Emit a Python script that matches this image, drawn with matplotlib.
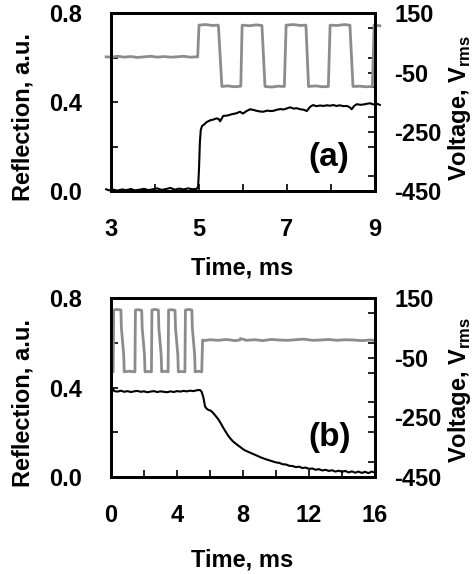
import matplotlib
matplotlib.use('Agg')
import matplotlib.pyplot as plt
from matplotlib.ticker import MultipleLocator, FixedLocator

plt.rcParams['font.family'] = ['Liberation Sans', 'DejaVu Sans']
plt.rcParams['font.weight'] = 'bold'
plt.rcParams['mathtext.fontset'] = 'custom'
plt.rcParams['mathtext.bf'] = 'Liberation Sans:bold'
plt.rcParams['mathtext.rm'] = 'Liberation Sans:bold'

# ---------------- Panel (a): switching on ----------------
ta_gray = [2.89, 3.0, 3.15, 3.3, 3.45, 3.6, 3.75, 3.9, 4.05, 4.2,
           4.35, 4.5, 4.65, 4.8, 4.95,
           4.97, 5.0, 5.15, 5.3, 5.44,
           5.52, 5.65, 5.8, 5.95, 5.98,
           6.15, 6.3, 6.43, 6.5, 6.65,
           6.8, 6.94, 6.98, 7.15, 7.3,
           7.43, 7.49, 7.65, 7.8, 7.94,
           7.98, 8.15, 8.3, 8.43, 8.5,
           8.65, 8.8, 8.94, 8.98, 9.11]
va_gray = [3, 2, 5, 2, 4, 1, 3, 5, 2, 4,
           2, 3, 5, 2, 3,
           3, 110, 112, 109, 110,
           -97, -95, -98, -96, 110,
           108, 111, 109, -97, -99,
           -96, -97, 110, 112, 109,
           110, -97, -95, -98, -97,
           110, 109, 112, 110, -97,
           -96, -98, -97, 110, 108]

ta_blk = [2.89, 2.95, 3.05, 3.15, 3.25, 3.35, 3.45, 3.55, 3.65, 3.75,
          3.85, 3.95, 4.05, 4.15, 4.25, 4.35, 4.45, 4.55, 4.65, 4.75,
          4.85, 4.95, 4.98, 5.0, 5.02, 5.04, 5.07, 5.12, 5.17, 5.25,
          5.33, 5.40, 5.45, 5.48, 5.55, 5.65, 5.75, 5.85, 5.93, 6.0,
          6.08, 6.16, 6.24, 6.31, 6.39, 6.46, 6.55, 6.62, 6.69, 6.77,
          6.85, 6.92, 7.0, 7.07, 7.15, 7.22, 7.3, 7.38, 7.45, 7.52,
          7.59, 7.67, 7.75, 7.83, 7.91, 7.98, 8.05, 8.13, 8.2, 8.28,
          8.36, 8.42, 8.47, 8.53, 8.59, 8.67, 8.75, 8.82, 8.89, 8.96,
          9.04, 9.11]
ra_blk = [0.008, 0.003, 0.006, 0.002, 0.007, 0.004, 0.009, 0.003, 0.006, 0.010,
          0.004, 0.008, 0.012, 0.005, 0.009, 0.014, 0.006, 0.011, 0.007, 0.012,
          0.008, 0.010, 0.02, 0.10, 0.22, 0.275, 0.293, 0.300, 0.310, 0.318,
          0.322, 0.327, 0.324, 0.314, 0.338, 0.340, 0.346, 0.350, 0.357, 0.349,
          0.360, 0.368, 0.365, 0.361, 0.358, 0.357, 0.362, 0.360, 0.361, 0.366,
          0.369, 0.367, 0.372, 0.377, 0.371, 0.373, 0.368, 0.366, 0.360, 0.378,
          0.387, 0.382, 0.385, 0.383, 0.386, 0.384, 0.387, 0.383, 0.386, 0.382,
          0.383, 0.378, 0.368, 0.384, 0.391, 0.388, 0.390, 0.393, 0.395, 0.390,
          0.393, 0.388]

# ---------------- Panel (b): switching off ----------------
tb_gray = [0.05, 0.13, 0.16, 0.35, 0.6, 0.63, 0.77, 0.8, 1.1, 1.45,
           1.48, 1.65, 1.86, 1.89, 2.03, 2.06, 2.25, 2.45, 2.48, 2.65,
           2.87, 2.9, 3.04, 3.07, 3.25, 3.46, 3.49, 3.65, 3.88, 3.91,
           4.05, 4.08, 4.25, 4.48, 4.51, 4.7, 4.9, 4.93, 5.07, 5.1,
           5.3, 5.5, 5.55, 5.65, 6.0, 6.5, 7.0, 7.5, 7.8, 7.85,
           8.2, 8.7, 9.2, 9.7, 10.2, 10.7, 11.2, 11.7, 12.2, 12.7,
           13.2, 13.7, 14.2, 14.7, 15.2, 15.7, 16.0]
vb_gray = [-97, -97, 111, 113, 111, 50, -40, -97, -95, -97,
           111, 112, 110, 50, -40, -97, -96, -97, 111, 113,
           111, 50, -40, -97, -95, -97, 111, 112, 110, 50,
           -40, -97, -96, -97, 111, 113, 111, 50, -40, -97,
           -95, -97, 10, 8, 11, 9, 12, 8, 10, 15,
           9, 11, 8, 12, 10, 9, 11, 13, 9, 10,
           12, 9, 11, 10, 8, 10, 9]

tb_blk = [0.1, 0.2, 0.4, 0.6, 0.8, 1.0, 1.2, 1.4, 1.6, 1.8,
          2.0, 2.2, 2.4, 2.6, 2.8, 3.0, 3.2, 3.4, 3.6, 3.8,
          4.0, 4.2, 4.4, 4.6, 4.8, 5.0, 5.2, 5.4, 5.5, 5.6,
          5.7, 5.8, 5.9, 6.05, 6.2, 6.35, 6.5, 6.65, 6.8, 6.95,
          7.1, 7.25, 7.4, 7.6, 7.8, 8.05, 8.3, 8.55, 8.8, 9.1,
          9.4, 9.7, 10.0, 10.2, 10.4, 10.6, 10.8, 11.0, 11.2, 11.4,
          11.6, 11.8, 12.0, 12.2, 12.4, 12.6, 12.8, 13.0, 13.2, 13.4,
          13.6, 13.8, 14.0, 14.2, 14.4, 14.6, 14.8, 15.0, 15.2, 15.4,
          15.6, 15.8, 16.0]
rb_blk = [0.395, 0.384, 0.382, 0.386, 0.381, 0.384, 0.380, 0.383, 0.385, 0.381,
          0.383, 0.379, 0.382, 0.384, 0.380, 0.383, 0.381, 0.379, 0.383, 0.380,
          0.384, 0.382, 0.385, 0.383, 0.386, 0.384, 0.388, 0.389, 0.380, 0.355,
          0.315, 0.305, 0.300, 0.296, 0.285, 0.272, 0.258, 0.240, 0.220, 0.202,
          0.184, 0.170, 0.158, 0.146, 0.135, 0.121, 0.112, 0.104, 0.096, 0.086,
          0.078, 0.071, 0.064, 0.062, 0.056, 0.055, 0.049, 0.048, 0.043, 0.045,
          0.039, 0.041, 0.035, 0.037, 0.031, 0.034, 0.028, 0.031, 0.026, 0.029,
          0.023, 0.027, 0.022, 0.026, 0.019, 0.024, 0.018, 0.023, 0.017, 0.022,
          0.016, 0.023, 0.019]

# tick labels
xa_major = [3, 5, 7, 9]
xb_major = [0, 4, 8, 12, 16]
refl_major = [0.0, 0.4, 0.8]
volt_major = [150, -50, -250, -450]

GRAY = '#8c8c8c'
FS = 17

fig = plt.figure(figsize=(4.73, 5.74), dpi=100)
ax_a = fig.add_axes([0.2347, 0.6672, 0.5581, 0.3096])
ax_b = fig.add_axes([0.2347, 0.1695, 0.5581, 0.3106])


def style(ax, xlim, xmaj, xminstep, data, lab_xy, refl_lab_y, volt_lab_y, time_lab_y, clip):
    axr = ax.twinx()
    ax.plot(data[0], data[1], color='black', lw=1.5, clip_on=clip, zorder=3)
    axr.plot(data[2], data[3], color=GRAY, lw=2.0, clip_on=clip, zorder=2)
    ax.set_xlim(*xlim)
    ax.set_ylim(0, 0.8)
    axr.set_ylim(-450, 150)
    ax.xaxis.set_major_locator(FixedLocator(xmaj))
    ax.xaxis.set_minor_locator(MultipleLocator(xminstep))
    ax.yaxis.set_major_locator(FixedLocator(refl_major))
    ax.yaxis.set_minor_locator(MultipleLocator(0.2))
    axr.yaxis.set_major_locator(FixedLocator(volt_major))
    axr.yaxis.set_minor_locator(MultipleLocator(100))
    ax.set_xticklabels([str(v) for v in xmaj])
    ax.set_yticklabels([f'{v:.1f}' for v in refl_major])
    axr.set_yticklabels([str(v) for v in volt_major])
    ax.tick_params(axis='x', which='both', direction='in', length=5, width=1.2,
                   top=False, bottom=True, labelsize=FS, pad=19.5)
    ax.tick_params(axis='y', which='both', direction='in', length=5, width=1.2,
                   left=True, right=False, labelsize=FS, pad=21)
    axr.tick_params(axis='y', which='both', direction='in', length=5, width=1.2,
                    right=True, left=False, labelsize=FS, pad=14)
    for a in (ax, axr):
        for s in a.spines.values():
            s.set_linewidth(2.0)
    ax.set_ylabel('Reflection, a.u.', fontsize=FS, fontweight='bold')
    ax.yaxis.set_label_coords(-0.333, refl_lab_y)
    ax.yaxis.label.set_va('center')
    axr.set_ylabel(r'Voltage, V$_{\mathbf{rms}}$', fontsize=FS, fontweight='bold')
    axr.yaxis.set_label_coords(1.322, volt_lab_y)
    axr.yaxis.label.set_va('center')
    ax.set_xlabel('Time, ms', fontsize=FS, fontweight='bold')
    ax.xaxis.set_label_coords(0.497, time_lab_y)
    ax.text(lab_xy[0], lab_xy[1], lab_xy[2], transform=ax.transAxes,
            fontsize=24, fontweight='bold', ha='center', va='center', zorder=5)
    return axr


style(ax_a, (3, 9), xa_major, 1, (ta_blk, ra_blk, ta_gray, va_gray),
      (0.826, 0.19, '(a)'), 0.417, 0.47, -0.37, False)
style(ax_b, (0, 16), xb_major, 2, (tb_blk, rb_blk, tb_gray, vb_gray),
      (0.828, 0.22, '(b)'), 0.416, 0.486, -0.40, True)

fig.savefig('out.png', dpi=100)
